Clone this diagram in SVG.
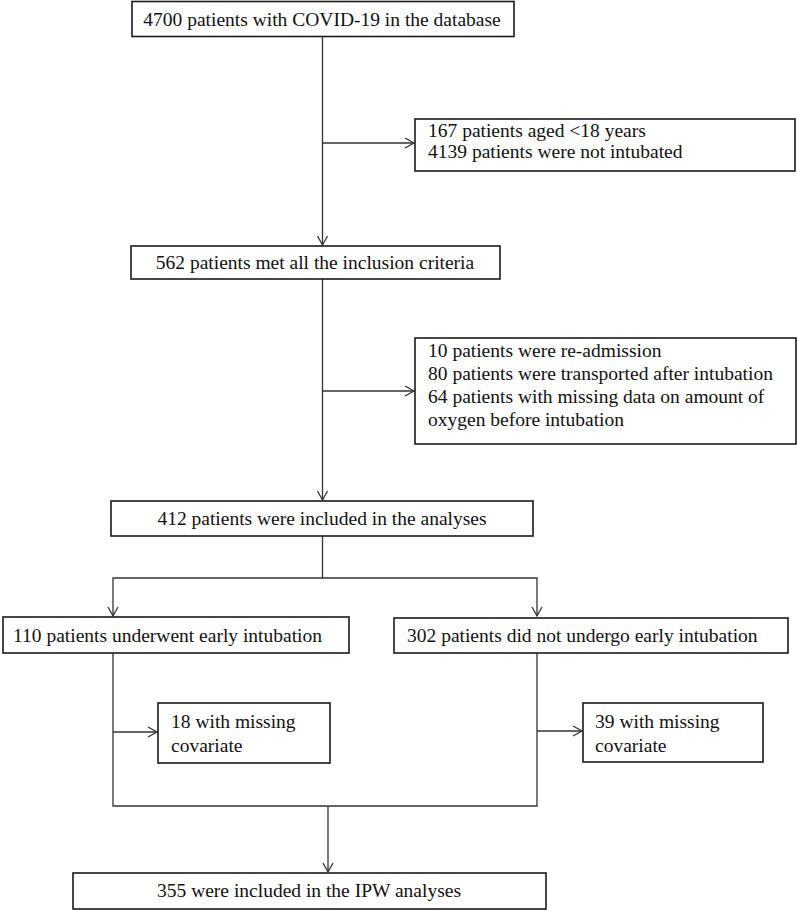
<svg xmlns="http://www.w3.org/2000/svg" width="797" height="911" viewBox="0 0 797 911">
<style>
.box{fill:#fff;stroke:#1a1a1a;stroke-width:1.6}
.ln{fill:none;stroke:#333;stroke-width:1.3}
text{font-family:"Liberation Serif","Times New Roman",serif;font-size:19.5px;fill:#111}
.c{text-anchor:middle}
</style>
<defs>
<marker id="ar" markerWidth="12" markerHeight="12" viewBox="0 0 12 12" refX="10" refY="6" orient="auto" markerUnits="userSpaceOnUse">
<path d="M1,1 L10,6 L1,11" fill="none" stroke="#333" stroke-width="1.3"/>
</marker>
</defs>
<g id="connectors">
<line class="ln" x1="322.5" y1="36" x2="322.5" y2="245" marker-end="url(#ar)"/>
<line class="ln" x1="322.5" y1="143" x2="414" y2="143" marker-end="url(#ar)"/>
<line class="ln" x1="322.5" y1="279" x2="322.5" y2="500" marker-end="url(#ar)"/>
<line class="ln" x1="322.5" y1="391" x2="414" y2="391" marker-end="url(#ar)"/>
<polyline class="ln" points="322.5,536 322.5,578 113,578 113,616" marker-end="url(#ar)"/>
<polyline class="ln" points="322.5,578 537,578 537,616" marker-end="url(#ar)"/>
<polyline class="ln" points="113,653 113,806 537,806 537,653"/>
<line class="ln" x1="113" y1="732" x2="157" y2="732" marker-end="url(#ar)"/>
<line class="ln" x1="537" y1="731" x2="582" y2="731" marker-end="url(#ar)"/>
<line class="ln" x1="328" y1="806" x2="328" y2="872" marker-end="url(#ar)"/>
</g>
<g id="n1">
<rect class="box" x="132" y="1.5" width="382" height="35"/>
<text class="c" x="322" y="26">4700 patients with COVID-19 in the database</text>
</g>
<g id="e1">
<rect class="box" x="415" y="119" width="380" height="52"/>
<text x="428" y="137">167 patients aged &lt;18 years</text>
<text x="428" y="158">4139 patients were not intubated</text>
</g>
<g id="n2">
<rect class="box" x="131" y="246" width="369" height="33"/>
<text class="c" x="315" y="269">562 patients met all the inclusion criteria</text>
</g>
<g id="e2">
<rect class="box" x="415" y="338" width="381" height="106"/>
<text x="428" y="357">10 patients were re-admission</text>
<text x="428" y="380">80 patients were transported after intubation</text>
<text x="428" y="403">64 patients with missing data on amount of</text>
<text x="428" y="426">oxygen before intubation</text>
</g>
<g id="n3">
<rect class="box" x="111" y="501" width="422" height="35"/>
<text class="c" x="322" y="525">412 patients were included in the analyses</text>
</g>
<g id="n4">
<rect class="box" x="3" y="617" width="346" height="36"/>
<text x="13" y="642">110 patients underwent early intubation</text>
</g>
<g id="n5">
<rect class="box" x="394" y="618" width="394" height="35"/>
<text x="407" y="642">302 patients did not undergo early intubation</text>
</g>
<g id="e3">
<rect class="box" x="158" y="703" width="172" height="60"/>
<text x="171" y="728">18 with missing</text>
<text x="171" y="752">covariate</text>
</g>
<g id="e4">
<rect class="box" x="583" y="703" width="180" height="59"/>
<text x="595" y="728">39 with missing</text>
<text x="595" y="752">covariate</text>
</g>
<g id="n6">
<rect class="box" x="73" y="873" width="473" height="36"/>
<text class="c" x="309" y="897">355 were included in the IPW analyses</text>
</g>
</svg>
